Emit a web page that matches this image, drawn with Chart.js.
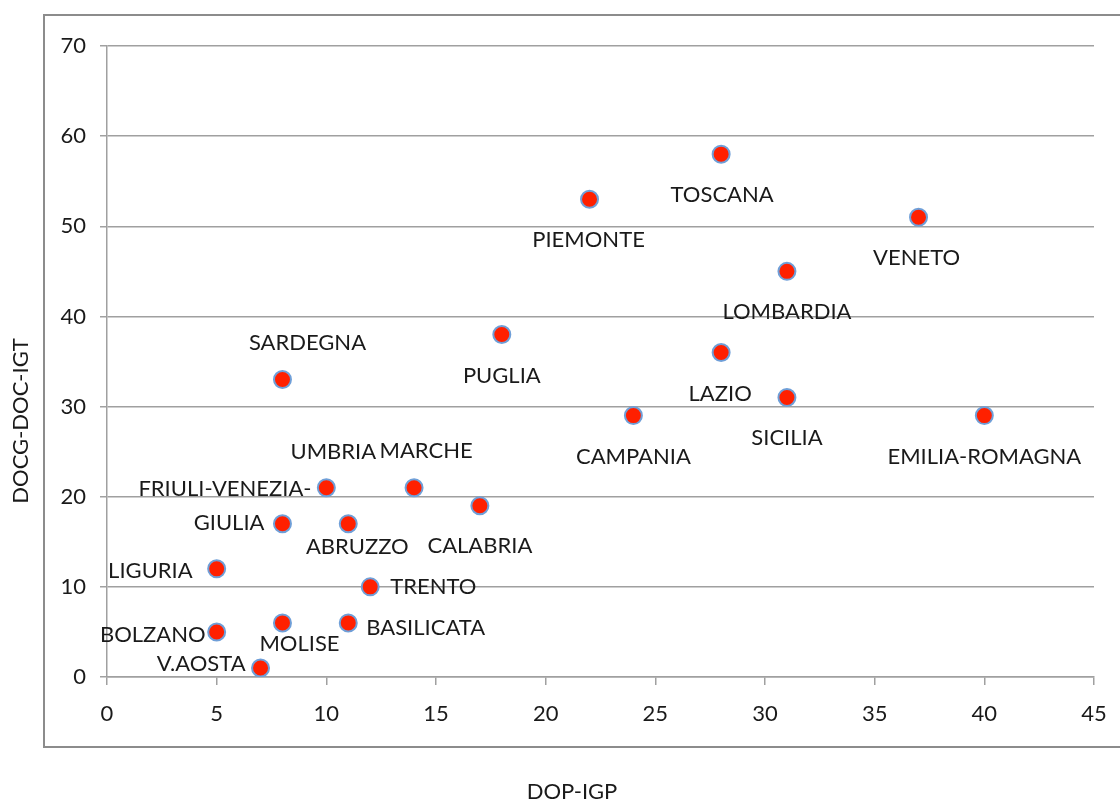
<!DOCTYPE html>
<html>
<head>
<meta charset="utf-8">
<script src="https://cdn.jsdelivr.net/npm/chart.js@4.4.1/dist/chart.umd.min.js"></script>
<style>
  html, body { margin: 0; padding: 0; background: #fff; }
  #wrap { width: 1120px; height: 800px; }
</style>
</head>
<body>
<div id="wrap"><canvas id="chart" width="1120" height="800"></canvas></div>
<script>
const regions = ['TOSCANA', 'PIEMONTE', 'VENETO', 'LOMBARDIA', 'PUGLIA', 'LAZIO', 'SARDEGNA', 'SICILIA',
  'CAMPANIA', 'EMILIA-ROMAGNA', 'UMBRIA', 'MARCHE', 'FRIULI-VENEZIA-\nGIULIA', 'ABRUZZO', 'CALABRIA',
  'LIGURIA', 'TRENTO', 'BOLZANO', 'MOLISE', 'BASILICATA', 'V.AOSTA'];
const dopIgp = [28, 22, 37, 31, 18, 28, 8, 31, 24, 40, 10, 14, 8, 11, 17, 5, 12, 5, 8, 11, 7];
const docgDocIgt = [58, 53, 51, 45, 38, 36, 33, 31, 29, 29, 21, 21, 17, 17, 19, 12, 10, 5, 6, 6, 1];
const xTicks = [0, 5, 10, 15, 20, 25, 30, 35, 40, 45];
const yTicks = [0, 10, 20, 30, 40, 50, 60, 70];
const xTitle = 'DOP-IGP';
const yTitle = 'DOCG-DOC-IGT';

// label placement per line: [dx, dy, align] relative to the point
const labelPos = [
  [[1, 41, 'center']], [[-1, 41, 'center']], [[-2, 41, 'center']], [[0, 41, 'center']],
  [[0, 41, 'center']], [[-1, 41, 'center']], [[25, -37, 'center']], [[0, 40, 'center']],
  [[0, 41, 'center']], [[0, 41, 'center']], [[7, -36, 'center']], [[12, -37, 'center']],
  [[29, -35, 'right'], [-18, -1, 'right']], [[9, 23, 'center']], [[0, 40, 'center']],
  [[-24, 2, 'right']], [[20, 0, 'left']], [[-11, 3, 'right']], [[17, 21, 'center']],
  [[18, 5, 'left']], [[-15, -4, 'right']]
];

const FONT = 'Lato, "Open Sans", sans-serif';
const TEXT = '#1a1a1a';
const GRID = '#a0a0a0';

const points = dopIgp.map((x, i) => ({ x: x, y: docgDocIgt[i] }));

const frame = {
  id: 'frame',
  beforeDraw(chart) {
    const c = chart.ctx;
    c.save();
    c.fillStyle = '#fff';
    c.fillRect(0, 0, chart.width, chart.height);
    c.strokeStyle = '#8c8c8c';
    c.lineWidth = 2;
    c.strokeRect(44, 15, 1090, 732);
    c.restore();
  },
  afterDraw(chart) {
    // axis titles sit off-centre in the original, so they are drawn here
    const c = chart.ctx;
    c.save();
    c.font = '22px ' + FONT;
    c.fillStyle = TEXT;
    c.textAlign = 'center';
    c.textBaseline = 'middle';
    c.fillText(xTitle, 572, 792);
    c.translate(21, 421);
    c.rotate(-Math.PI / 2);
    c.fillText(yTitle, 0, 0);
    c.restore();
  }
};

const pointLabels = {
  id: 'pointLabels',
  afterDatasetsDraw(chart) {
    const c = chart.ctx;
    const meta = chart.getDatasetMeta(0);
    c.save();
    c.font = '22px ' + FONT;
    c.fillStyle = TEXT;
    c.textBaseline = 'middle';
    meta.data.forEach((el, i) => {
      const lines = regions[i].split('\n');
      lines.forEach((line, j) => {
        const p = labelPos[i][j];
        c.textAlign = p[2];
        c.fillText(line, el.x + p[0], el.y + p[1]);
      });
    });
    c.restore();
  }
};

new Chart(document.getElementById('chart'), {
  type: 'scatter',
  data: {
    datasets: [{
      data: points,
      backgroundColor: '#ff2000',
      borderColor: '#6f9fd8',
      borderWidth: 2,
      pointRadius: 8.5,
      pointHoverRadius: 8.5
    }]
  },
  options: {
    responsive: false,
    animation: false,
    events: [],
    layout: { padding: { top: 46, right: 26, left: 0, bottom: 0 } },
    plugins: { legend: { display: false }, tooltip: { enabled: false } },
    scales: {
      x: {
        type: 'linear',
        min: 0,
        max: 45,
        afterBuildTicks: (s) => { s.ticks = xTicks.map(v => ({ value: v })); },
        afterFit: (s) => { s.height = 123; s.paddingLeft = 0; s.paddingRight = 0; },
        grid: { drawOnChartArea: false, color: GRID, lineWidth: 1.5, tickLength: 8 },
        border: { color: GRID, width: 1.5 },
        ticks: { color: TEXT, font: { family: FONT, size: 22 }, padding: 16, maxRotation: 0 },
        title: { display: false }
      },
      y: {
        type: 'linear',
        min: 0,
        max: 70,
        afterBuildTicks: (s) => { s.ticks = yTicks.map(v => ({ value: v })); },
        afterFit: (s) => { s.width = 107; s.paddingTop = 0; s.paddingBottom = 0; },
        grid: { color: GRID, lineWidth: 1.5, tickLength: 7 },
        border: { color: GRID, width: 1.5 },
        ticks: { color: TEXT, font: { family: FONT, size: 22 }, padding: 14 },
        title: { display: false }
      }
    }
  },
  plugins: [frame, pointLabels]
});
</script>
</body>
</html>
